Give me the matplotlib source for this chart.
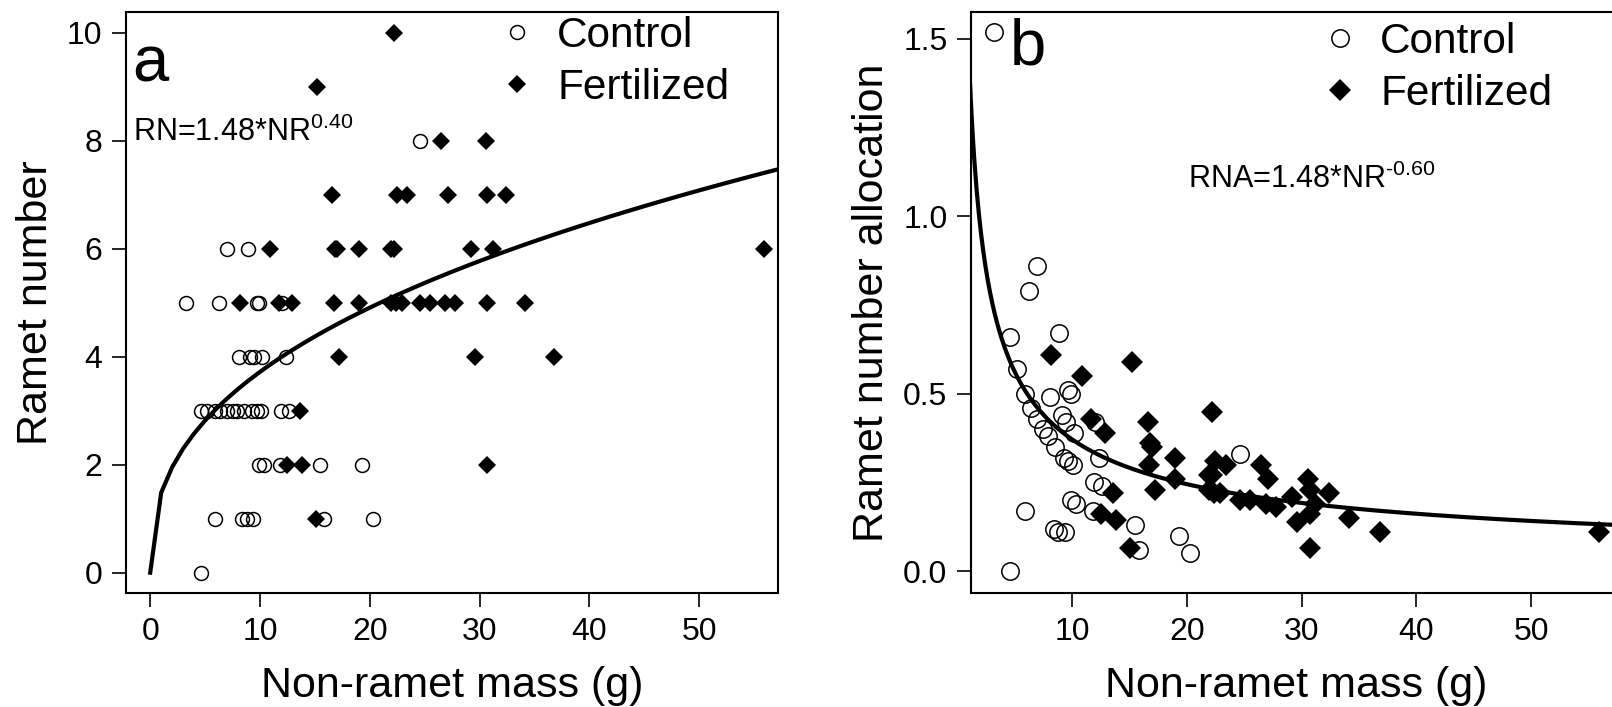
import numpy as np
import matplotlib
matplotlib.use('Agg')
import matplotlib.pyplot as plt


# non-ramet mass (g), ramet number and ramet number allocation per plant
ctrl_mass = [3.25, 6.3, 9.7, 9.95, 12.0,
             7.0, 8.9,
             8.1, 9.1, 9.5, 10.2, 12.4,
             4.6, 5.2, 5.9, 6.4, 7.0, 7.5, 7.9, 8.5, 9.3, 9.7, 10.1, 11.9, 12.6,
             9.9, 10.4, 11.8, 15.5, 19.3,
             5.9, 8.4, 8.8, 9.4, 15.8, 20.3,
             4.6, 24.6]
ctrl_ramets = [5, 5, 5, 5, 5,
               6, 6,
               4, 4, 4, 4, 4,
               3, 3, 3, 3, 3, 3, 3, 3, 3, 3, 3, 3, 3,
               2, 2, 2, 2, 2,
               1, 1, 1, 1, 1, 1,
               0, 8]
ctrl_alloc = [1.52, 0.79, 0.51, 0.50, 0.42,
              0.86, 0.67,
              0.49, 0.44, 0.42, 0.39, 0.32,
              0.66, 0.57, 0.50, 0.46, 0.43, 0.40, 0.38, 0.35, 0.32, 0.31, 0.30, 0.25, 0.24,
              0.20, 0.19, 0.17, 0.13, 0.10,
              0.17, 0.12, 0.11, 0.11, 0.06, 0.05,
              0.00, 0.33]

fert_mass = [22.2, 15.2, 26.5, 30.6,
             16.6, 22.5, 23.4, 27.1, 30.7, 32.4,
             10.9, 16.8, 17.0, 19.0, 21.9, 22.2, 29.2, 31.2, 55.9,
             8.2, 11.7, 12.9, 16.7, 19.0, 21.9, 22.4, 22.9, 24.6, 25.5, 26.9, 27.8, 30.7, 34.1,
             17.2, 29.6, 36.8,
             13.6,
             12.5, 13.8, 30.7,
             15.1]
fert_ramets = [10, 9, 8, 8,
               7, 7, 7, 7, 7, 7,
               6, 6, 6, 6, 6, 6, 6, 6, 6,
               5, 5, 5, 5, 5, 5, 5, 5, 5, 5, 5, 5, 5, 5,
               4, 4, 4,
               3,
               2, 2, 2,
               1]
fert_alloc = [0.45, 0.59, 0.30, 0.26,
              0.42, 0.31, 0.30, 0.26, 0.23, 0.22,
              0.55, 0.36, 0.35, 0.32, 0.27, 0.27, 0.21, 0.19, 0.11,
              0.61, 0.43, 0.39, 0.30, 0.26, 0.23, 0.22, 0.22, 0.20, 0.20, 0.19, 0.18, 0.16, 0.15,
              0.23, 0.14, 0.11,
              0.22,
              0.16, 0.145, 0.065,
              0.066]

# fitted power law RN = a * NR^b
fit_a = 1.48
fit_b = 0.40

plt.rcParams['font.family'] = ['Liberation Sans', 'DejaVu Sans']
plt.rcParams['mathtext.fontset'] = 'custom'
plt.rcParams['mathtext.rm'] = 'Liberation Sans'
plt.rcParams['mathtext.it'] = 'Liberation Sans'


def style_axes(ax):
    '''R-like box, outward ticks'''
    for s in ax.spines.values():
        s.set_linewidth(1.5)
    ax.tick_params(direction='out', length=10, width=1.2, labelsize=23, pad=7)


def panel(ax, x_c, y_c, x_f, y_f, ms_o, ms_d):
    ax.plot(x_c, y_c, 'o', ms=ms_o, mfc='none', mec='black', mew=1.1,
            label='Control', zorder=3)
    ax.plot(x_f, y_f, 'D', ms=ms_d, mfc='black', mec='black', mew=0,
            label='Fertilized', zorder=4)


def main():
    fig = plt.figure(figsize=(16.12, 7.07), dpi=100)
    ax1 = fig.add_axes([0.0782, 0.161, 0.4045, 0.822])
    ax2 = fig.add_axes([0.6024, 0.161, 0.4038, 0.822])

    # panel a
    panel(ax1, ctrl_mass, ctrl_ramets, fert_mass, fert_ramets, 10, 9)
    xs = np.arange(0, 58)
    ax1.plot(xs, fit_a * xs ** fit_b, color='black', lw=3, zorder=2)
    ax1.set_xlim(-2.2, 57.2)
    ax1.set_ylim(-0.38, 10.38)
    ax1.set_xticks([0, 10, 20, 30, 40, 50])
    ax1.set_yticks([0, 2, 4, 6, 8, 10])
    ax1.set_xlabel('Non-ramet mass (g)', fontsize=31, labelpad=14)
    ax1.set_ylabel('Ramet number', fontsize=31, labelpad=8)
    ax1.text(-1.6, 9.09, 'a', fontsize=47, va='baseline')
    ax1.text(-1.6, 8.0, r'RN=1.48*NR$^{\text{0.40}}$', fontsize=22, va='baseline')
    ax1.legend(loc='upper left', bbox_to_anchor=(0.567, 0.993), frameon=False,
               fontsize=30.5, handlelength=1.0, handletextpad=0.45,
               labelspacing=0.28, borderpad=0, borderaxespad=0)
    style_axes(ax1)

    # panel b, smooth curve
    panel(ax2, ctrl_mass, ctrl_alloc, fert_mass, fert_alloc, 12.5, 11)
    xs = np.linspace(1, 60, 600)
    ax2.plot(xs, fit_a * xs ** (fit_b - 1), color='black', lw=3, zorder=2)
    ax2.set_xlim(1.22, 57.9)
    ax2.set_ylim(-0.062, 1.576)
    ax2.set_xticks([10, 20, 30, 40, 50])
    ax2.set_yticks([0.0, 0.5, 1.0, 1.5])
    ax2.set_yticklabels(['0.0', '0.5', '1.0', '1.5'])
    ax2.set_xlabel('Non-ramet mass (g)', fontsize=31, labelpad=14)
    ax2.set_ylabel('Ramet number allocation', fontsize=31, labelpad=8)
    ax2.text(4.6, 1.427, 'b', fontsize=47, va='baseline')
    ax2.text(20.1, 1.079, r'RNA=1.48*NR$^{\text{-0.60}}$', fontsize=22,
             va='baseline')
    ax2.legend(loc='upper left', bbox_to_anchor=(0.534, 0.983), frameon=False,
               fontsize=30.5, handlelength=1.0, handletextpad=0.45,
               labelspacing=0.28, borderpad=0, borderaxespad=0)
    style_axes(ax2)

    fig.savefig('out.png', dpi=100)


if __name__ == "__main__":
    main()
